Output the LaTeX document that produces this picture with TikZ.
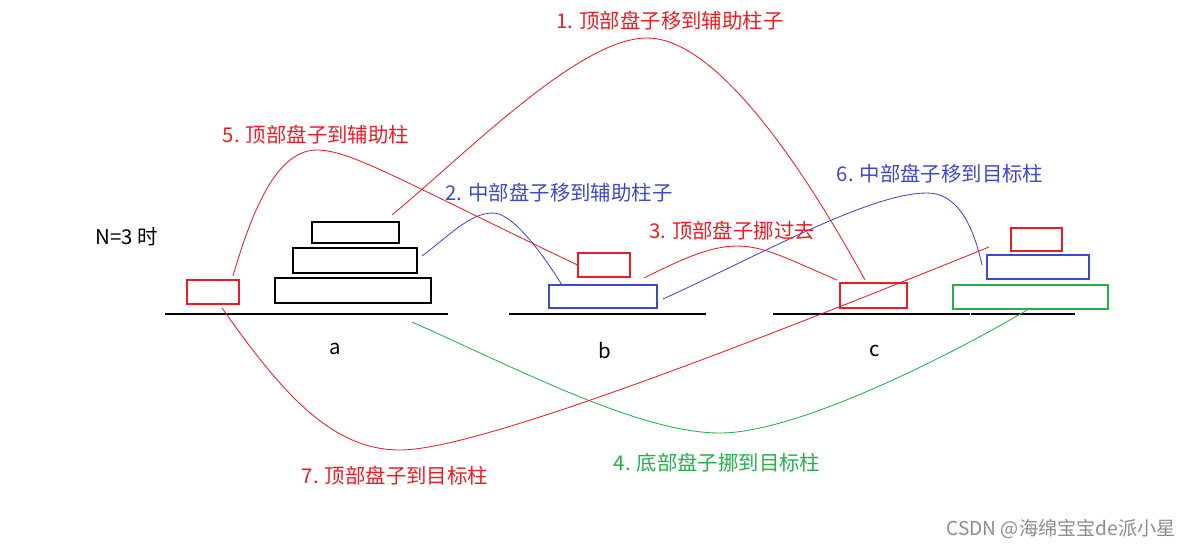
\documentclass[tikz,border=0pt]{standalone}
\usepackage{fontspec}
\setmainfont{Noto Sans CJK SC}
\usetikzlibrary{calc}
\definecolor{mvred}{RGB}{237,28,36}
\definecolor{mvblue}{RGB}{63,72,204}
\definecolor{mvgreen}{RGB}{34,177,76}
\begin{document}
\begin{tikzpicture}[x=0.025cm, y=-0.025cm,
    every node/.style={inner sep=0pt, font=\fontsize{14.5pt}{17pt}\selectfont},
    disk/.style 2 args={draw, line width=0.8pt, minimum width=#1*0.025cm, minimum height=#2*0.025cm},
    move/.style={line width=0.6pt}]
    \useasboundingbox (0,0) rectangle (1194,548);

    % rods
    \draw[line width=0.8pt] (165,314) -- (448,314);
    \draw[line width=0.8pt] (509,314) -- (706,314);
    \draw[line width=0.8pt] (773,314) -- (970,314);
    \draw[line width=0.8pt] (971,314) -- (1075,314);
    \node (ra) at (335,349) {a};
    \node (rb) at (605,351) {b};
    \node (rc) at (875,351) {c};
    \node (n3) at (127,237) {N=3 时};

    % disks on a
    \node[disk={156}{25}] (a1) at (353,290.5) {};
    \node[disk={124}{25}] (a2) at (355,260.5) {};
    \node[disk={87}{21}] (a3) at (355.5,232.5) {};
    \node[disk={52}{24}, draw=mvred] (ax) at (213,292) {};

    % disks on b
    \node[disk={108}{23}, draw=mvblue] (b2) at (603,296.5) {};
    \node[disk={52}{24}, draw=mvred] (b3) at (604,265) {};

    % disks on c
    \node[disk={67}{25}, draw=mvred] (cx) at (873.5,295.5) {};
    \node[disk={155}{24}, draw=mvgreen] (c1) at (1030.5,297) {};
    \node[disk={102}{24}, draw=mvblue] (c2) at (1038,267) {};
    \node[disk={51}{23}, draw=mvred] (c3) at (1036.5,239.5) {};

    % ends of the moves
    \coordinate (s1) at (392,215);  \coordinate (e1) at (865,280);
    \coordinate (s2) at (422,256);  \coordinate (e2) at (562,285);
    \coordinate (s3) at (644,278);  \coordinate (e3) at (837,280);
    \coordinate (s4) at (412,322);  \coordinate (e4) at (1027,310);
    \coordinate (s5) at (233,276);
    \coordinate (s6) at (663,299);  \coordinate (e6) at (982,265);
    \coordinate (s7) at (222,308);  \coordinate (e7) at (989,247);

    % moves
    \draw[move, mvred] (s1) .. controls (470,150) and (580,38) .. (647,38)
        .. controls (720,38) and (810,180) .. (e1);
    \draw[move, mvblue] (s2) .. controls (450,235) and (470,213) .. (493,213)
        .. controls (512,213) and (540,250) .. (e2);
    \draw[move, mvred] (s3) .. controls (680,260) and (710,246) .. (737,246)
        .. controls (765,246) and (790,260) .. (e3);
    \draw[move, mvgreen] (s4) .. controls (520,370) and (640,433) .. (720,433)
        .. controls (800,433) and (960,350) .. (e4);
    \draw[move, mvred] (s5) .. controls (255,200) and (280,150) .. (317,150)
        .. controls (350,150) and (400,180) .. (b3.west);
    \draw[move, mvblue] (s6) .. controls (760,255) and (870,193) .. (927,193)
        .. controls (955,193) and (972,220) .. (e6);
    \draw[move, mvred] (s7) .. controls (280,390) and (330,450) .. (400,450)
        .. controls (470,450) and (700,364) .. (e7);

    % labels
    \node[text=mvred] (l1) at (670,21) {1. 顶部盘子移到辅助柱子};
    \node[text=mvblue] (l2) at (559,193) {2. 中部盘子移到辅助柱子};
    \node[text=mvred] (l3) at (732,231) {3. 顶部盘子挪过去};
    \node[text=mvgreen] (l4) at (717,463) {4. 底部盘子挪到目标柱};
    \node[text=mvred] (l5) at (316,135) {5. 顶部盘子到辅助柱};
    \node[text=mvblue] (l6) at (940,174) {6. 中部盘子移到目标柱};
    \node[text=mvred] (l7) at (395,476) {7. 顶部盘子到目标柱};
    \node[text=black!45, font=\fontsize{13.6pt}{16pt}\selectfont] (wm) at (1061,529) {CSDN @海绵宝宝de派小星};
\end{tikzpicture}
\end{document}
